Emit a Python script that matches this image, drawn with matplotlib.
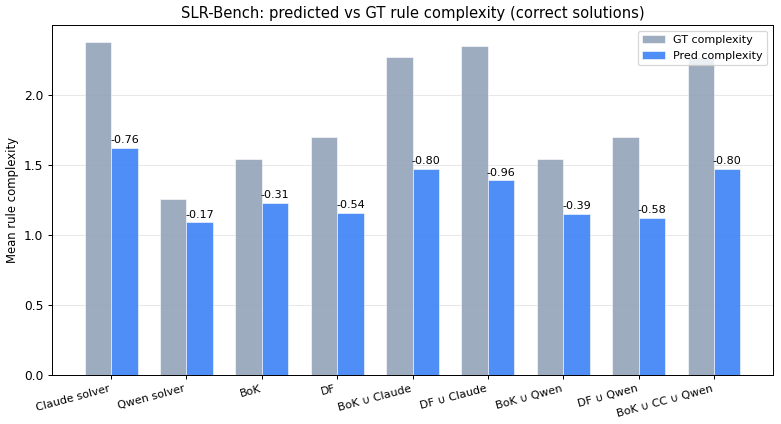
import matplotlib
matplotlib.use("Agg")
import matplotlib.pyplot as plt
import numpy as np

categories = ["Claude solver", "Qwen solver", "BoK", "DF", "BoK ∪ Claude",
              "DF ∪ Claude", "BoK ∪ Qwen", "DF ∪ Qwen", "BoK ∪ CC ∪ Qwen"]
gt_complexity = [2.38, 1.26, 1.54, 1.70, 2.27, 2.35, 1.54, 1.70, 2.27]
pred_complexity = [1.62, 1.09, 1.23, 1.16, 1.47, 1.39, 1.15, 1.12, 1.47]

plt.rcParams["font.size"] = 9
DPI = 88.6
fig, ax = plt.subplots(figsize=(781 / DPI, 424 / DPI), dpi=DPI)
x = np.arange(len(categories))
w = 0.35
ax.bar(x - w / 2, gt_complexity, w, label="GT complexity", color="#94a3b8",
       alpha=0.9, edgecolor="white", linewidth=0.5)
ax.bar(x + w / 2, pred_complexity, w, label="Pred complexity", color="#3b82f6",
       alpha=0.9, edgecolor="white", linewidth=0.5)
for xi, g, p in zip(x, gt_complexity, pred_complexity):
    ax.text(xi + w / 2, p + 0.02, f"{p - g:.2f}", ha="center", va="bottom", fontsize=9)

ax.set_xticks(x)
ax.set_xticklabels(categories, rotation=15, ha="right", fontsize=9)
ax.tick_params(axis="y", labelsize=10)
ax.set_ylabel("Mean rule complexity", fontsize=9.5)
ax.set_title("SLR-Bench: predicted vs GT rule complexity (correct solutions)", fontsize=12)
ax.grid(axis="y", alpha=0.3)
ax.set_axisbelow(True)
ax.legend(loc="upper right", fontsize=9)
fig.subplots_adjust(left=0.0666, right=0.9898, top=0.941, bottom=0.1156)
fig.savefig("out.png", dpi=DPI)
